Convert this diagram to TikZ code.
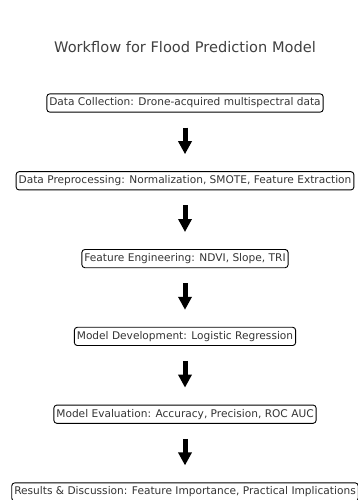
\documentclass[tikz,border=0pt]{standalone}
\usepackage{fontspec}
\setmainfont{DejaVu Sans}
\usetikzlibrary{arrows.meta}
\begin{document}
\begin{tikzpicture}[
  x=1pt, y=-1pt,
  stage/.style={draw, rounded corners=3pt, line width=0.9pt, inner xsep=2.5pt, inner ysep=4pt,
    font=\fontsize{10.6}{12}\selectfont, text=black!80},
  flow/.style={-{Triangle[width=13pt,length=13pt]}, line width=5pt, shorten <=15pt, shorten >=17pt}
]
  \useasboundingbox (0,0) rectangle (357,500);
  \node[font=\fontsize{14.6}{17}\selectfont, text=black!75] (title) at (185,47) {Workflow for Flood Prediction Model};

  \foreach \txt [count=\i] in {
      {Data Collection: Drone-acquired multispectral data},
      {Data Preprocessing: Normalization, SMOTE, Feature Extraction},
      {Feature Engineering: NDVI, Slope, TRI},
      {Model Development: Logistic Regression},
      {Model Evaluation: Accuracy, Precision, ROC AUC},
      {Results \& Discussion: Feature Importance, Practical Implications}} {
    \node[stage] (s\i) at (185, {103 + (\i-1)*77.8}) {\txt};
  }
  \foreach \i [evaluate=\i as \j using int(\i+1)] in {1,...,5}
    \draw[flow] (s\i) -- (s\j);
\end{tikzpicture}
\end{document}
